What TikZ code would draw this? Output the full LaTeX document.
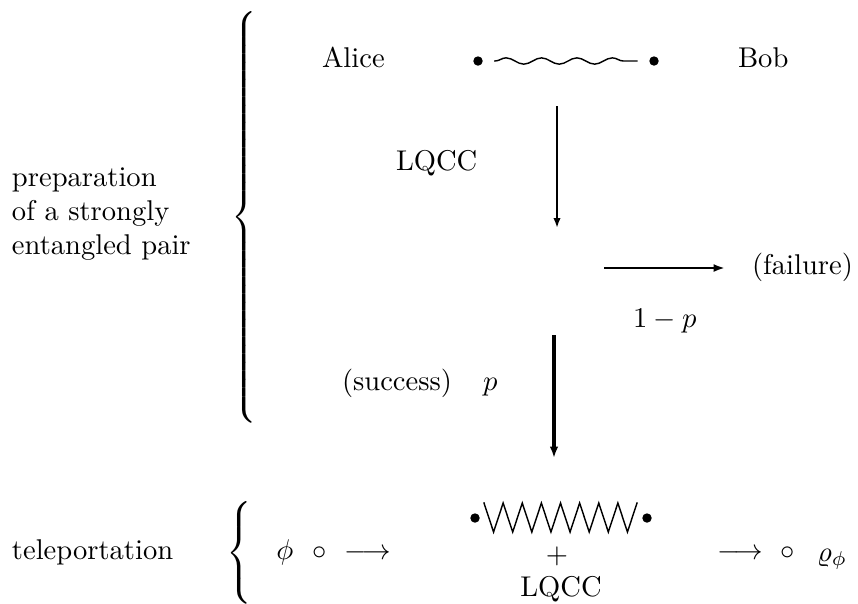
\documentclass[tikz,border=0pt]{standalone}
\usetikzlibrary{arrows.meta,decorations.pathmorphing}
\newcommand{\tallbrace}[1]{$\delimiterfactor=1000\delimitershortfall=0pt\left\{\vrule height \dimexpr#1+2.5pt\relax depth \dimexpr#1-2.5pt\relax width 0pt\right.$}
\begin{document}
\begin{tikzpicture}[x=0.35pt,y=-0.35pt,line cap=rect]
\useasboundingbox (0,0) rectangle (858,603);
\definecolor{col_ink}{RGB}{0, 0, 0}
\tikzset{lbl/.style={inner sep=0, outer sep=0, col_ink},
  pt_dot/.style={circle, fill=col_ink, inner sep=0, minimum size=3.3pt}}
% upper part: preparation
\node[lbl, anchor=base west] (txt_alice) at (322,67) {Alice};
\node[lbl, anchor=base west] (txt_bob) at (738,67) {Bob};
\node[pt_dot] (dot_a) at (478,61) {};
\node[pt_dot] (dot_b) at (654,61) {};
\coordinate (wave_l) at (495,61);
\coordinate (wave_r) at (637,61);
\draw [line width=0.5pt, col_ink, decorate, decoration={snake, amplitude=1.1pt, segment length=12.4pt}]  (wave_l) -- (wave_r) ;
\node[lbl, anchor=base west] (txt_lqcc) at (396,170) {LQCC};
\coordinate (arr_one_top) at (557,107);
\coordinate (arr_one_end) at (557,228);
\draw [line width=0.7pt, col_ink, -{Latex[length=3.5pt,width=2.6pt]}]  (arr_one_top) -- (arr_one_end) ;
\coordinate (arr_fail_l) at (605,268);
\coordinate (arr_fail_r) at (725,268);
\draw [line width=0.8pt, col_ink, -{Latex[length=4pt,width=2.8pt]}]  (arr_fail_l) -- (arr_fail_r) ;
\node[lbl, anchor=base west] (txt_failure) at (752,274) {(failure)};
\node[lbl, anchor=base west] (txt_prob_fail) at (633,327) {$1-p$};
\coordinate (arr_two_top) at (554,337);
\coordinate (arr_two_end) at (554,458);
\draw [line width=1.1pt, col_ink, -{Latex[length=4pt,width=3pt]}]  (arr_two_top) -- (arr_two_end) ;
\node[lbl, anchor=base west] (txt_success) at (342,390) {(success)};
\node[lbl, anchor=base west] (txt_prob_succ) at (483,390) {$p$};
\node[lbl, anchor=west, align=left] (txt_prep) at (12,214) {preparation\\of a strongly\\entangled pair};
\node[lbl] (brace_prep) at (246,217) {\tallbrace{70pt}};
% lower part: teleportation
\node[lbl, anchor=base west] (txt_telep) at (12,559) {teleportation};
\node[lbl] (brace_telep) at (241,553) {\tallbrace{16pt}};
\node[lbl, anchor=base] (sym_phi) at (285,559) {$\phi$};
\node[lbl, anchor=base] (sym_in) at (320,559) {$\circ$};
\node[lbl, anchor=base] (sym_to_l) at (368,559) {$\longrightarrow$};
\node[pt_dot] (dot_c) at (475,518) {};
\node[pt_dot] (dot_d) at (647,518) {};
\coordinate (zig_l) at (484,503);
\draw [line width=0.5pt, col_ink, line join=miter]  (zig_l) \foreach \k in {1,...,8} { -- ++(9.5625,29) -- ++(9.5625,-29) } ;
\node[lbl] (sym_plus) at (557,556) {$+$};
\node[lbl, anchor=base] (txt_lqcc_b) at (561,596) {LQCC};
\node[lbl, anchor=base] (sym_to_r) at (740,559) {$\longrightarrow$};
\node[lbl, anchor=base] (sym_out) at (788,559) {$\circ$};
\node[lbl, anchor=base west] (sym_rho) at (817,561) {$\varrho_\phi$};
\end{tikzpicture}
\end{document}
